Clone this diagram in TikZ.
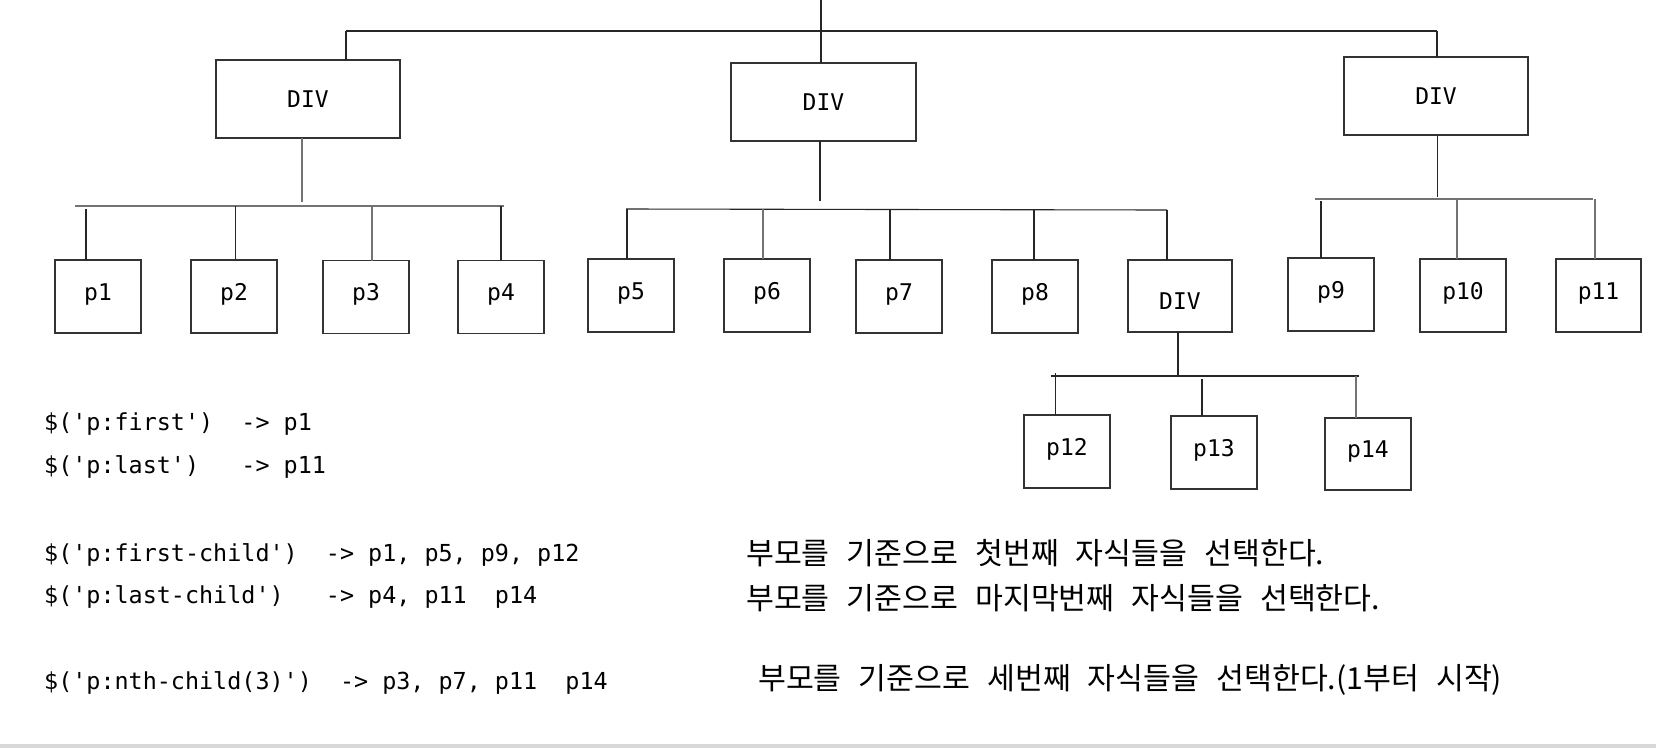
\documentclass[tikz,border=0pt]{standalone}
\usepackage{fontspec}
\setmonofont{DejaVu Sans Mono}
\newfontfamily\krfont{Noto Sans CJK KR}
\newcommand\ksp{\hspace{17pt}}
\begin{document}
\begin{tikzpicture}[x=1pt,y=-1pt,
  box/.style={draw=black!80,line width=1.2pt,inner sep=0pt,outer sep=0pt,
    minimum width=86pt,minimum height=73pt,font=\ttfamily\fontsize{23}{26}\selectfont},
  pbox/.style={box,text height=18pt,text depth=11pt},
  divbox/.style={box,minimum width=184pt,minimum height=78pt},
  conn/.style={draw=black!85,line width=1.1pt},
  gconn/.style={draw=black!55,line width=1.5pt},
  code/.style={anchor=west,inner sep=0pt,font=\ttfamily\fontsize{23.4}{28}\selectfont},
  kr/.style={anchor=west,inner sep=0pt,font=\krfont\fontsize{30.3}{34}\selectfont}]
\useasboundingbox (0,0) rectangle (1656,748);
\fill[white] (0,0) rectangle (1656,748);
\fill[black!15] (0,744) rectangle (1656,748);

% DIV boxes
\node[divbox] (div1) at (308,99) {DIV};
\node[divbox,minimum width=185pt] (div2) at (823.5,102) {DIV};
\node[divbox] (div3) at (1436,96) {DIV};
\node[box,minimum width=104pt,minimum height=72pt,text height=27pt,text depth=0pt] (div4) at (1180,296) {DIV};

% p boxes
\node[pbox] (p1) at (98,296.5) {p1};
\node[pbox] (p2) at (234,296.5) {p2};
\node[pbox] (p3) at (366,297) {p3};
\node[pbox] (p4) at (501,297) {p4};
\node[pbox] (p5) at (631,295.5) {p5};
\node[pbox] (p6) at (767,295.5) {p6};
\node[pbox] (p7) at (899,296.5) {p7};
\node[pbox] (p8) at (1035,296.5) {p8};
\node[pbox] (p9) at (1331,294.5) {p9};
\node[pbox] (p10) at (1463,295.5) {p10};
\node[pbox,minimum width=85pt] (p11) at (1598.5,295.5) {p11};
\node[pbox] (p12) at (1067,451.5) {p12};
\node[pbox] (p13) at (1214,452.5) {p13};
\node[pbox,minimum height=72pt] (p14) at (1368,454) {p14};

% top level
\coordinate (root) at (821,0);
\coordinate (tb1) at (346,31);
\coordinate (tb2) at (1437,31);
\draw[conn] (root) -- (root |- div2.north);
\draw[conn] (tb1) -- (tb2);
\draw[conn] (tb1) -- (tb1 |- div1.north);
\draw[conn] (tb2) -- (tb2 |- div3.north);

% DIV1 group
\coordinate (b1l) at (75,206);
\coordinate (b1r) at (504,206);
\draw[gconn] (b1l) -- (b1r);
\draw[gconn] ([xshift=-6pt]div1.south) -- ([xshift=-6pt,yshift=4pt]div1.south |- b1l);
\draw[conn] ([xshift=-12pt]p1.north) -- ([xshift=-12pt,yshift=-3pt]p1.north |- b1l);
\draw[conn] ([xshift=1.5pt]p2.north) -- ([xshift=1.5pt]p2.north |- b1l);
\draw[gconn] ([xshift=6pt]p3.north) -- ([xshift=6pt]p3.north |- b1l);
\draw[conn] (p4.north) -- (p4.north |- b1l);

% DIV2 group
\coordinate (b2l) at (626,209);
\coordinate (b2r) at (1167,210);
\draw[conn] (b2l) -- (b2r);
\draw[conn] ([xshift=-3.5pt]div2.south) -- ([xshift=-3.5pt,yshift=8pt]div2.south |- b2l);
\draw[conn] ([xshift=-4pt]p5.north) -- ([xshift=-4pt]p5.north |- b2l);
\draw[gconn] ([xshift=-4pt]p6.north) -- ([xshift=-4pt]p6.north |- b2l);
\draw[conn] ([xshift=-9pt]p7.north) -- ([xshift=-9pt]p7.north |- b2l);
\draw[conn] ([xshift=-1pt]p8.north) -- ([xshift=-1pt]p8.north |- b2l);
\draw[conn] ([xshift=-13pt]div4.north) -- ([xshift=-13pt]div4.north |- b2r);

% DIV3 group
\coordinate (b3l) at (1315,199);
\coordinate (b3r) at (1593,199);
\draw[gconn] (b3l) -- (b3r);
\draw[conn] ([xshift=1.5pt]div3.south) -- ([xshift=1.5pt,yshift=2pt]div3.south |- b3l);
\draw[conn] ([xshift=-10pt]p9.north) -- ([xshift=-10pt,yshift=-2pt]p9.north |- b3l);
\draw[gconn] ([xshift=-6pt]p10.north) -- ([xshift=-6pt]p10.north |- b3l);
\draw[gconn] ([xshift=-3.5pt]p11.north) -- ([xshift=-3.5pt]p11.north |- b3l);

% DIV4 group
\coordinate (b4l) at (1050.6,376);
\coordinate (b4r) at (1358.5,376);
\draw[conn] (b4l) -- (b4r);
\draw[conn] ([xshift=-2pt]div4.south) -- ([xshift=-2pt]div4.south |- b4l);
\draw[conn] ([xshift=-11.5pt]p12.north) -- ([xshift=-11.5pt,yshift=3pt]p12.north |- b4l);
\draw[conn] ([xshift=-12pt]p13.north) -- ([xshift=-12pt,yshift=-3pt]p13.north |- b4l);
\draw[gconn] ([xshift=-12pt]p14.north) -- ([xshift=-12pt]p14.north |- b4l);

% code lines
\node[code] (c1) at (44,424) {\$('p:first')~ -> p1};
\node[code] (c2) at (44,467) {\$('p:last')~~ -> p11};
\node[code] (c3) at (44,555) {\$('p:first-child')~ -> p1, p5, p9, p12};
\node[code] (c4) at (44,597) {\$('p:last-child')~~ -> p4, p11~ p14};
\node[code] (c5) at (44,683) {\$('p:nth-child(3)')~ -> p3, p7, p11~ p14};

% Korean lines
\node[kr] (k1) at (746,553) {부모를\ksp 기준으로\ksp 첫번째\ksp 자식들을\ksp 선택한다.};
\node[kr] (k2) at (746,598) {부모를\ksp 기준으로\ksp 마지막번째\ksp 자식들을\ksp 선택한다.};
\node[kr] (k3) at (758,680) {부모를\ksp 기준으로\ksp 세번째\ksp 자식들을\ksp 선택한다.(1부터\ksp 시작)};
\end{tikzpicture}
\end{document}
